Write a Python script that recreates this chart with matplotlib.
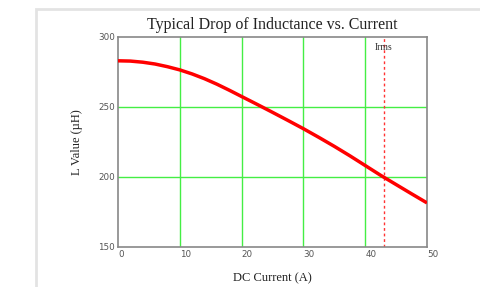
import matplotlib
matplotlib.use("Agg")
import matplotlib.pyplot as plt
from matplotlib.patches import Rectangle

# inductance curve
current = [0, 2, 4, 6, 8, 10, 12, 14, 16, 18, 20, 22.5, 25, 27.5, 30,
           32.5, 35, 37.5, 40, 42.5, 45, 47.5, 50]
inductance = [283, 282.8, 282, 280.7, 278.8, 276.5, 273.6, 270.2, 266.3,
              262, 257.5, 251.9, 246.2, 240.4, 234.5, 228.3, 221.9, 215.2,
              208.2, 201.2, 194.6, 188, 181.5]
irms = 43
x_ticks = [0, 10, 20, 30, 40, 50]
y_ticks = [150, 200, 250, 300]

plt.rcParams['font.family'] = ['Liberation Serif', 'DejaVu Serif']

fig = plt.figure(figsize=(4.8, 2.87), dpi=100)
W, H = 480, 287

# light gray page border
fig.patches.append(Rectangle((36 / W, -0.1), 1.2, 1 - 9 / H + 0.1,
                             transform=fig.transFigure, fill=False,
                             edgecolor='#e3e3e3', linewidth=2))

ax = fig.add_axes([118 / W, 1 - 247 / H, (427 - 118) / W, (247 - 37) / H])
ax.set_xlim(0, 50)
ax.set_ylim(150, 300)

for x in x_ticks[1:-1]:
    ax.axvline(x, color='#44ee44', linewidth=1, zorder=1)
for y in y_ticks[1:-1]:
    ax.axhline(y, color='#44ee44', linewidth=1, zorder=1)

ax.plot(current, inductance, color='#ff0000', linewidth=2.5, zorder=3,
        solid_capstyle='butt')
ax.axvline(irms, color='#ff3333', linewidth=1, linestyle=(0, (2, 2)), zorder=2)
ax.text(irms, 296, 'Irms', ha='center', va='top', fontsize=7, color='#333333')

for s in ax.spines.values():
    s.set_color('#888888')
    s.set_linewidth(1.2)

ax.set_xticks(x_ticks)
ax.set_yticks(y_ticks)
ax.tick_params(length=0, labelsize=6.3, labelcolor='#555555', pad=2)
for lbl in ax.get_xticklabels() + ax.get_yticklabels():
    lbl.set_fontfamily('DejaVu Sans')
for lbl in ax.get_xticklabels():
    lbl.set_horizontalalignment('left')

ax.set_title('Typical Drop of Inductance vs. Current', fontsize=11.5,
             color='#222222', pad=6)
ax.set_xlabel('DC Current (A)', fontsize=9, color='#222222', labelpad=10)
ax.set_ylabel('L Value (\u00b5H)', fontsize=9, color='#222222', labelpad=11)

fig.savefig('out.png', dpi=100)
